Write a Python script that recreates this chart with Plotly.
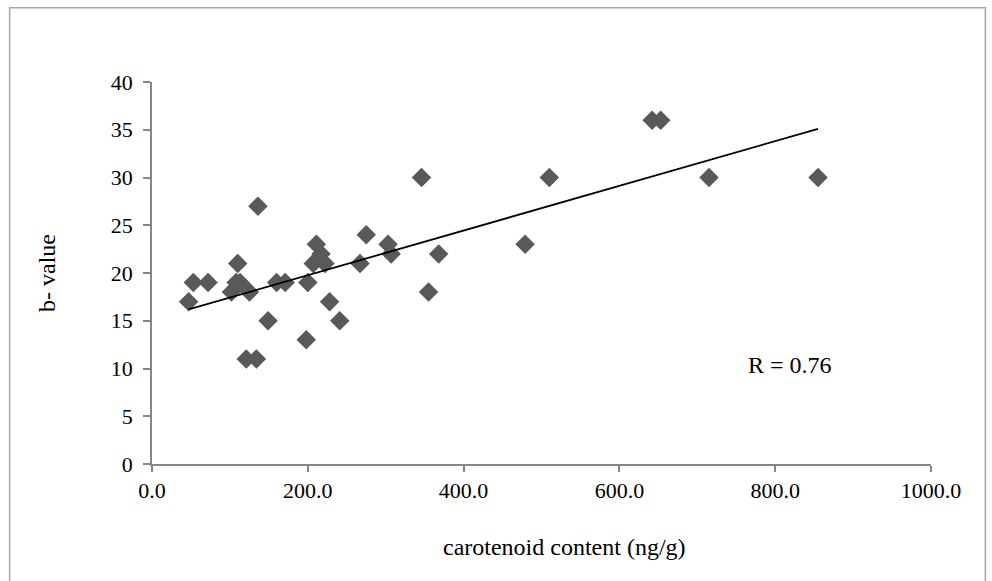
import numpy as np
import plotly.graph_objects as go

carotenoid = [47, 53, 72, 102, 108, 110, 113, 125, 121, 134, 136, 149, 160, 171,
              198, 200, 207, 211, 217, 222, 228, 241, 267, 275, 303, 307, 346,
              355, 368, 479, 510, 642, 653, 715, 855]
b_value = [17, 19, 19, 18, 19, 21, 19, 18, 11, 11, 27, 15, 19, 19,
           13, 19, 21, 23, 22, 21, 17, 15, 21, 24, 23, 22, 30,
           18, 22, 23, 30, 36, 36, 30, 30]
x_ticks = [0, 200, 400, 600, 800, 1000]
x_tick_labels = ["0.0", "200.0", "400.0", "600.0", "800.0", "1000.0"]
y_ticks = [0, 5, 10, 15, 20, 25, 30, 35, 40]
r_label = "R = 0.76"
x_title = "carotenoid content (ng/g)"
y_title = "b- value"

xs = np.array(carotenoid, dtype=float)
ys = np.array(b_value, dtype=float)
slope, intercept = np.polyfit(xs, ys, 1)
line_x = [xs.min(), xs.max()]
line_y = [intercept + slope * v for v in line_x]

FONT = "Liberation Serif, Times New Roman, serif"
AXIS_COLOR = "#868686"

fig = go.Figure()
fig.add_trace(go.Scatter(
    x=carotenoid, y=b_value, mode="markers",
    marker=dict(symbol="diamond", size=15, color="#595959", line=dict(width=0)),
    showlegend=False, hoverinfo="x+y"))
fig.add_trace(go.Scatter(
    x=line_x, y=line_y, mode="lines",
    line=dict(color="black", width=1.8), showlegend=False, hoverinfo="skip"))

fig.update_layout(
    width=992, height=581,
    margin=dict(l=152, r=61, t=82, b=117),
    paper_bgcolor="white", plot_bgcolor="white",
    font=dict(family=FONT, size=22, color="black"),
    xaxis=dict(range=[0, 1000], tickvals=x_ticks, ticktext=x_tick_labels,
               showgrid=False, zeroline=False, showline=True, linecolor=AXIS_COLOR,
               linewidth=1.5, ticks="outside", tickcolor=AXIS_COLOR, ticklen=6,
               tickwidth=1.5, tickfont=dict(family=FONT, size=22)),
    yaxis=dict(range=[0, 40], tickvals=y_ticks,
               showgrid=False, zeroline=False, showline=True, linecolor=AXIS_COLOR,
               linewidth=1.5, ticks="outside", tickcolor=AXIS_COLOR, ticklen=7,
               tickwidth=1.5, tickfont=dict(family=FONT, size=22),
               ticklabelstandoff=6,
               title=dict(text=y_title, standoff=48,
                          font=dict(family=FONT, size=24))),
    annotations=[
        dict(x=819, y=10.4, xref="x", yref="y", text=r_label,
             showarrow=False, font=dict(family=FONT, size=24)),
        dict(x=0.530, y=-0.2165, xref="paper", yref="paper", text=x_title,
             xanchor="center", yanchor="middle",
             showarrow=False, font=dict(family=FONT, size=24)),
    ],
    shapes=[dict(type="rect", xref="paper", yref="paper",
                 x0=-0.1828, x1=1.0698, y0=-0.35, y1=1.1945,
                 line=dict(color="#a6a6a6", width=1.5), fillcolor="rgba(0,0,0,0)",
                 layer="below")],
)

fig.write_html("out.html")
